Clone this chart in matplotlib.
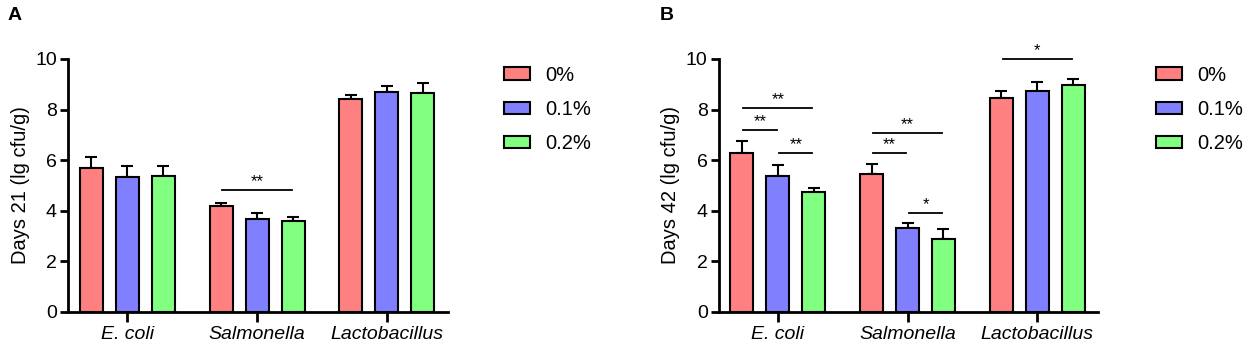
import matplotlib.pyplot as plt
import numpy as np

plt.rcParams['font.family'] = ['Liberation Sans', 'DejaVu Sans']

groups = ["E. coli", "Salmonella", "Lactobacillus"]
doses = ["0%", "0.1%", "0.2%"]
colors = ["#FF8080", "#8080FF", "#80FF80"]

# Day 21 (means and SD), rows = dose, cols = group
d21_mean = [[5.71, 4.20, 8.40],
            [5.32, 3.67, 8.70],
            [5.39, 3.59, 8.66]]
d21_err = [[0.43, 0.12, 0.16],
           [0.46, 0.25, 0.25],
           [0.37, 0.17, 0.38]]

# Day 42
d42_mean = [[6.30, 5.46, 8.46],
            [5.38, 3.30, 8.75],
            [4.76, 2.87, 8.99]]
d42_err = [[0.46, 0.40, 0.29],
           [0.41, 0.20, 0.35],
           [0.15, 0.41, 0.23]]

# significance: (group, dose_a, dose_b, height, label)
d21_sig = [(1, 0, 2, 4.82, "**")]
d42_sig = [(0, 0, 2, 8.06, "**"), (0, 0, 1, 7.21, "**"), (0, 1, 2, 6.30, "**"),
           (1, 0, 2, 7.09, "**"), (1, 0, 1, 6.30, "**"), (1, 1, 2, 3.90, "*"),
           (2, 0, 2, 10.0, "*")]

fig = plt.figure(figsize=(12.48, 3.47), dpi=100)
offs = [-0.277, 0, 0.277]
w = 0.177


def panel(rect, means, errs, sig, ylabel, letter, lx, legx):
    ax = fig.add_axes(rect)
    x = np.arange(len(groups))
    handles = []
    for i in range(3):
        b = ax.bar(x + offs[i], means[i], w, color=colors[i], edgecolor="black",
                   linewidth=1.5, zorder=2)
        ax.errorbar(x + offs[i], means[i], yerr=[np.zeros(3), errs[i]], fmt="none",
                    ecolor="black", elinewidth=1.5, capsize=4, capthick=1.5, zorder=1)
        handles.append(b)
    for g, a, bb, h, lab in sig:
        x1 = g + offs[a] + 0.01
        x2 = g + offs[bb] - 0.01
        ax.plot([x1, x2], [h, h], color="black", lw=1.3, clip_on=False)
        ax.text((x1 + x2) / 2, h + 0.03, lab, ha="center", va="bottom", fontsize=12)
    ax.set_xlim(-0.455, 2.47)
    ax.set_ylim(0, 10)
    ax.set_yticks([0, 2, 4, 6, 8, 10])
    ax.set_xticks(x)
    ax.set_xticklabels(groups, fontstyle="italic", fontsize=14)
    ax.tick_params(axis="y", labelsize=14, width=2, length=6, pad=2)
    ax.tick_params(axis="x", width=2, length=7, pad=3)
    for s in ["top", "right"]:
        ax.spines[s].set_visible(False)
    for s in ["left", "bottom"]:
        ax.spines[s].set_linewidth(2)
    ax.set_ylabel(ylabel, fontsize=14.5, labelpad=4)
    fig.text(lx, 0.955, letter, fontsize=14, fontweight="bold", va="center")
    fig.legend(handles, doses, loc="upper left", bbox_to_anchor=(legx, 0.81),
               frameon=False, fontsize=14.5, handlelength=1.3, handleheight=0.6,
               labelspacing=0.75, handletextpad=0.75, borderpad=0, borderaxespad=0)
    return ax


panel([0.0545, 0.101, 0.3045, 0.729], d21_mean, d21_err, d21_sig,
      "Days 21 (lg cfu/g)", "A", 0.006, 0.404)
panel([0.576, 0.101, 0.304, 0.729], d42_mean, d42_err, d42_sig,
      "Days 42 (lg cfu/g)", "B", 0.529, 0.926)

fig.savefig("out.png", dpi=100)
